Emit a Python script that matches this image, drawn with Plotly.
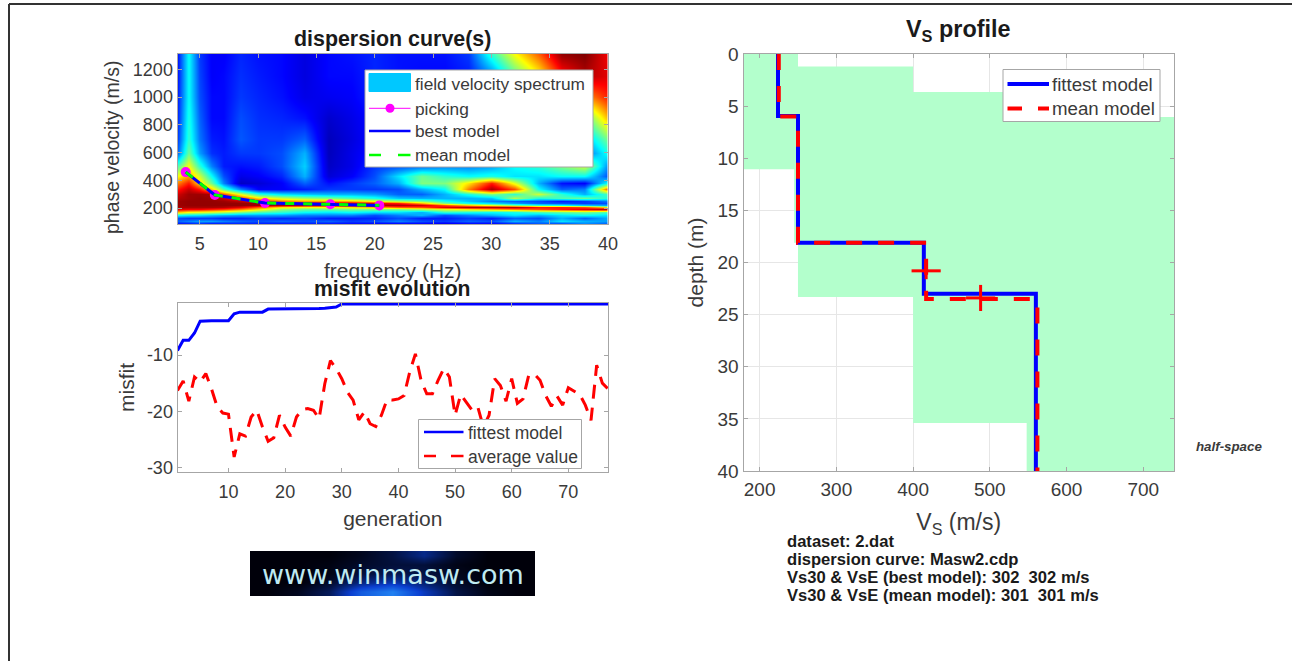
import plotly.graph_objects as go

W, H = 1292, 661

# ---------- dispersion panel data ----------
spectrum_freq = [3.1, 4, 5, 6, 7, 8.5, 10, 12, 14, 16, 18, 20, 22, 24, 26, 28, 30, 32, 34, 36, 38, 40]
spectrum_vel = [85, 110, 130, 150, 170, 190, 205, 220, 235, 250, 270, 300, 340, 380, 430, 500, 600, 700, 850, 1000, 1150, 1310]
spectrum = [
    [.12, .12, .14, .10, .12, .14, .14, .12, .14, .12, .12, .10, .08, .10, .08, .10, .10, .12, .20, .15, .25, .20],
    [.22, .25, .28, .28, .25, .22, .20, .22, .20, .22, .18, .20, .25, .20, .18, .22, .20, .30, .25, .35, .30, .28],
    [.20, .18, .18, .18, .16, .16, .18, .16, .18, .15, .15, .16, .20, .15, .15, .18, .15, .22, .20, .30, .22, .30],
    [.38, .36, .35, .32, .30, .28, .28, .28, .25, .25, .25, .20, .25, .30, .20, .25, .30, .35, .30, .35, .38, .35],
    [.68, .62, .60, .58, .55, .50, .45, .42, .38, .36, .38, .35, .35, .30, .42, .40, .38, .40, .45, .48, .50, .45],
    [.90, .88, .88, .85, .82, .75, .65, .52, .48, .48, .50, .50, .50, .55, .60, .65, .70, .75, .80, .85, .90, .95],
    [.96, .96, .96, .96, .95, .90, .78, .65, .62, .62, .65, .70, .78, .80, .90, .95, .95, .95, .85, .85, .80, .65],
    [.97, .98, .98, .98, .98, .98, .97, .96, .95, .95, .95, .95, .95, .92, .80, .68, .60, .50, .42, .38, .32, .28],
    [.97, .98, .98, .98, .98, .98, .97, .96, .95, .95, .93, .90, .85, .70, .50, .40, .35, .28, .22, .20, .18, .20],
    [.97, .98, .98, .98, .97, .94, .86, .76, .72, .72, .70, .62, .55, .50, .40, .32, .25, .22, .20, .15, .18, .25],
    [.95, .97, .98, .97, .93, .82, .66, .58, .53, .50, .45, .40, .32, .30, .30, .30, .32, .55, .40, .45, .48, .40],
    [.92, .97, .97, .96, .80, .60, .42, .35, .32, .30, .30, .28, .22, .22, .30, .40, .50, .42, .58, .42, .30, .45],
    [.85, .93, .85, .68, .45, .25, .12, .12, .15, .18, .18, .18, .20, .30, .38, .75, .96, .80, .38, .22, .25, .80],
    [.75, .85, .66, .48, .25, .06, .08, .12, .22, .14, .18, .22, .30, .50, .50, .65, .85, .60, .30, .14, .12, .40],
    [.62, .72, .58, .38, .20, .10, .12, .16, .30, .08, .12, .20, .35, .48, .42, .38, .40, .35, .35, .38, .38, .20],
    [.45, .62, .42, .25, .15, .14, .15, .20, .33, .06, .10, .18, .20, .22, .25, .25, .28, .38, .42, .50, .58, .25],
    [.22, .48, .28, .17, .15, .18, .18, .20, .30, .05, .10, .15, .16, .14, .14, .14, .14, .14, .16, .20, .22, .40],
    [.18, .42, .24, .15, .14, .21, .18, .18, .22, .05, .09, .14, .14, .14, .14, .14, .14, .14, .16, .20, .30, .50],
    [.16, .40, .22, .13, .13, .20, .17, .16, .14, .07, .10, .14, .14, .13, .13, .13, .13, .14, .20, .30, .45, .70],
    [.15, .38, .20, .13, .13, .18, .16, .14, .10, .11, .12, .16, .14, .13, .13, .14, .16, .22, .32, .50, .72, .85],
    [.14, .38, .19, .12, .13, .17, .15, .13, .09, .13, .13, .16, .14, .13, .13, .15, .25, .45, .62, .85, .95, .90],
    [.14, .38, .18, .12, .12, .16, .14, .13, .09, .13, .14, .16, .14, .14, .14, .18, .42, .62, .78, .98, 1.0, .88],
]
pick_freq = [3.8, 6.3, 10.6, 16.2, 20.4]
pick_vel = [459, 294, 236, 227, 219]
best_vel = [459, 294, 236, 227, 219]
mean_vel = [459, 295, 236, 227, 220]

# ---------- misfit panel data ----------
generation = list(range(1, 78))
fittest_misfit = [-9.2, -7.4, -7.4, -6.1, -4.0, -3.9, -3.9, -3.9, -3.9, -3.9, -2.7, -2.4, -2.4, -2.4, -2.4, -2.4,
                  -1.85, -1.85, -1.85, -1.85, -1.85, -1.85, -1.85, -1.85, -1.8, -1.75, -1.7, -1.6, -1.5] + [-0.95] * 48
average_misfit = [-16.3, -14.6, -18.2, -13.9, -14.8, -13.3, -16, -19.2, -20.3, -20.5, -28.1, -24, -24.4, -21, -19.8,
                  -22.8, -25.3, -24.7, -20.7, -22.8, -24.4, -21, -19.7, -19.5, -19.8, -21.3, -15.1, -11, -12.4, -14.2,
                  -16.6, -18, -21.5, -20.1, -22.2, -22.7, -20.7, -17.9, -18, -17.8, -17.2, -13, -9.8, -14.5, -16.9,
                  -16.9, -14.5, -12.4, -13.9, -20.7, -17, -18.3, -19.8, -19.2, -22.8, -20.7, -14.2, -15.4, -18.2,
                  -14.2, -18.6, -17.8, -13.6, -13.4, -14.5, -17.2, -19.1, -17.3, -18.9, -15.8, -16.4, -17, -18.9,
                  -21.6, -11.8, -15, -16]

# ---------- Vs profile data ----------
fit_vs = [224, 224, 250, 250, 414, 414, 560, 560]
fit_depth = [0, 5.95, 5.95, 18.1, 18.1, 23.0, 23.0, 40]
mean_vs = [225, 225, 250, 250, 417, 417, 562, 562]
mean_depth = [0, 6.0, 6.0, 18.1, 18.1, 23.5, 23.5, 40]
cross_vs = [417, 488]
cross_depth = [20.8, 23.4]
cross_vs_err = [19, 19]
cross_depth_err = [0.8, 1.25]
band_top = [0, 1.2, 3.65, 6.05, 11.05, 18.1, 23.3, 35.4]
band_bottom = [1.2, 3.65, 6.05, 11.05, 18.1, 23.3, 35.4, 40]
band_low = [179, 179, 179, 179, 245, 250, 400, 548]
band_high = [250, 400, 650, 740, 740, 740, 740, 740]

# ---------- logo glow ----------
logo_glow = [
    [0, .05, .2, .65, .85, .45, .15, .03, 0],
    [0, 0, .08, .3, .42, .25, .08, 0, 0],
    [0, 0, .03, .12, .18, .14, .05, 0, 0],
    [0, 0, .02, .08, .12, .12, .03, 0, 0],
    [0, 0, 0, .05, .14, .32, .08, 0, 0],
]

INK = "#3a3a3a"
FONT = "Liberation Sans"
AX = "#a6a6a6"


def px(x):
    return x / W


def py(y):
    return 1 - y / H


def dom_x(a, b):
    return [px(a), px(b)]


def dom_y(top, bottom):
    return [py(bottom), py(top)]


JET = [[0, "rgb(0,0,143)"], [.125, "rgb(0,0,255)"], [.375, "rgb(0,255,255)"],
       [.625, "rgb(255,255,0)"], [.875, "rgb(255,0,0)"], [1, "rgb(128,0,0)"]]

fig = go.Figure()

# dispersion panel
fig.add_trace(go.Heatmap(x=spectrum_freq, y=spectrum_vel, z=spectrum, colorscale=JET, zmin=0, zmax=1,
                         zsmooth="best", showscale=False, xaxis="x", yaxis="y", name="field velocity spectrum",
                         hoverinfo="skip"))
fig.add_trace(go.Scatter(x=pick_freq, y=pick_vel, mode="lines+markers", name="picking", xaxis="x", yaxis="y",
                         line=dict(color="#ff00ff", width=1), marker=dict(color="#ff00ff", size=10)))
fig.add_trace(go.Scatter(x=pick_freq, y=best_vel, mode="lines", name="best model", xaxis="x", yaxis="y",
                         line=dict(color="#0000ff", width=3)))
fig.add_trace(go.Scatter(x=pick_freq, y=mean_vel, mode="lines", name="mean model", xaxis="x", yaxis="y",
                         line=dict(color="#00ff00", width=3, dash="9px,9px")))

# misfit panel
fig.add_trace(go.Scatter(x=generation, y=fittest_misfit, mode="lines", name="fittest model", xaxis="x2", yaxis="y2",
                         line=dict(color="#0000ff", width=3), cliponaxis=False))
fig.add_trace(go.Scatter(x=generation, y=average_misfit, mode="lines", name="average value", xaxis="x2", yaxis="y2",
                         line=dict(color="#ff0000", width=3, dash="14px,9px")))

# Vs profile panel
band_x, band_y = [], []
for lo, t, b in zip(band_low, band_top, band_bottom):
    band_x += [lo, lo]
    band_y += [t, b]
for hi, t, b in zip(band_high[::-1], band_top[::-1], band_bottom[::-1]):
    band_x += [hi, hi]
    band_y += [b, t]
fig.add_trace(go.Scatter(x=band_x, y=band_y, mode="lines", fill="toself", fillcolor="rgb(179,255,204)",
                         line=dict(width=0), xaxis="x3", yaxis="y3", name="explored range", hoverinfo="skip"))
fig.add_trace(go.Scatter(x=fit_vs, y=fit_depth, mode="lines", name="fittest model", xaxis="x3", yaxis="y3",
                         line=dict(color="#0000ff", width=4)))
fig.add_trace(go.Scatter(x=mean_vs, y=mean_depth, mode="lines", name="mean model", xaxis="x3", yaxis="y3",
                         line=dict(color="#ff0000", width=4, dash="16px,16px")))
fig.add_trace(go.Scatter(x=cross_vs, y=cross_depth, mode="markers", xaxis="x3", yaxis="y3", name="uncertainty",
                         marker=dict(size=1, color="#ff0000"),
                         error_x=dict(type="data", array=cross_vs_err, color="#ff0000", thickness=3, width=0),
                         error_y=dict(type="data", array=cross_depth_err, color="#ff0000", thickness=3, width=0)))

# logo background
fig.add_trace(go.Heatmap(z=logo_glow, xaxis="x4", yaxis="y4", zsmooth="best", showscale=False, zmin=0, zmax=1,
                         colorscale=[[0, "#00000a"], [.5, "#0a3fd0"], [1, "#2a9cff"]], hoverinfo="skip"))


def axis_common(tick):
    return dict(showline=True, linecolor=AX, linewidth=1, mirror="ticks", ticks="inside", ticklen=4, tickcolor=AX,
                tickfont=dict(family=FONT, size=tick, color=INK), zeroline=False, showgrid=False,
                layer="above traces", automargin=False)


def title_font(size):
    return dict(family=FONT, size=size, color=INK)


layout = dict(
    width=W, height=H, margin=dict(l=0, r=0, t=0, b=0, autoexpand=False), paper_bgcolor="white", plot_bgcolor="white",
    showlegend=False, font=dict(family=FONT, color=INK),
    xaxis=dict(domain=dom_x(177.5, 608), range=[3.1, 40], tickvals=[5, 10, 15, 20, 25, 30, 35, 40], anchor="y",
               ticklabelstandoff=3,
               title=dict(text="frequency (Hz)", font=title_font(21), standoff=10), **axis_common(18)),
    yaxis=dict(domain=dom_y(54, 224), range=[85, 1310], tickvals=[200, 400, 600, 800, 1000, 1200], anchor="x",
               **axis_common(18)),
    xaxis2=dict(domain=dom_x(177.5, 608), range=[1, 77], tickvals=[10, 20, 30, 40, 50, 60, 70], anchor="y2",
                ticklabelstandoff=3,
                title=dict(text="generation", font=title_font(21), standoff=10), **axis_common(18)),
    yaxis2=dict(domain=dom_y(303, 472), range=[-30.77, -0.77], tickvals=[-10, -20, -30],
                ticktext=["-10", "-20", "-30"], anchor="x2",
                title=dict(text="misfit", font=title_font(21), standoff=6), **axis_common(18)),
    xaxis3=dict(domain=dom_x(743.5, 1174), range=[179, 740], tickvals=[200, 300, 400, 500, 600, 700], anchor="y3",
                ticklabelstandoff=1,
                title=dict(text="V<sub>S</sub> (m/s)", font=title_font(23), standoff=15),
                **{**axis_common(19), "showgrid": True, "gridcolor": "#e6e6e6"}),
    yaxis3=dict(domain=dom_y(54, 471), range=[40, 0], tickvals=[0, 5, 10, 15, 20, 25, 30, 35, 40], anchor="x3",
                title=dict(text="depth (m)", font=title_font(21), standoff=8),
                **{**axis_common(19), "showgrid": True, "gridcolor": "#e6e6e6"}),
    xaxis4=dict(domain=dom_x(250, 535), visible=False, anchor="y4"),
    yaxis4=dict(domain=dom_y(551, 596), visible=False, anchor="x4"),
)

shapes = []
ann = []


def text(x, y, s, size=17.3, color=INK, anchor="left", bold=False, family=FONT, angle=0):
    ann.append(dict(xref="paper", yref="paper", x=px(x), y=py(y), text=f"<b>{s}</b>" if bold else s, showarrow=False,
                    xanchor=anchor, yanchor="middle", font=dict(family=family, size=size, color=color), textangle=angle,
                    borderpad=0, borderwidth=0))


def rect(x0, y0, x1, y1, fill="white", line=AX, w=1):
    shapes.append(dict(type="rect", xref="paper", yref="paper", x0=px(x0), x1=px(x1), y0=py(y0), y1=py(y1),
                       fillcolor=fill, line=dict(color=line, width=w)))


def seg(x0, y0, x1, y1, color, w, dash="solid"):
    shapes.append(dict(type="line", xref="paper", yref="paper", x0=px(x0), x1=px(x1), y0=py(y0), y1=py(y1),
                       line=dict(color=color, width=w, dash=dash)))


# page frame
seg(9, 4, W, 4, "#333333", 2)
seg(9, 4, 9, H, "#333333", 2)

# titles
text(392, 39, "dispersion curve(s)", size=21.4, anchor="center", bold=True, color="#1a1a1a")
text(392, 288, "misfit evolution", size=21.2, anchor="center", bold=True, color="#1a1a1a")
text(958, 30, "V<sub>S</sub> profile", size=23.4, anchor="center", bold=True, color="#1a1a1a")
text(112, 148, "phase velocity (m/s)", size=19.5, anchor="center", angle=-90)

# dispersion legend
rect(365, 70, 593, 167)
rect(369, 73.5, 410.5, 91.5, fill="#00c8ff", line="#00c8ff")
seg(369, 108.3, 410.5, 108.3, "#ff00ff", 1)
shapes.append(dict(type="circle", xref="paper", yref="paper", x0=px(385.5), x1=px(394.5), y0=py(103.8), y1=py(112.8),
                   fillcolor="#ff00ff", line=dict(color="#ff00ff", width=0)))
seg(369, 131, 410.5, 131, "#0000ff", 2.5)
seg(369, 155, 381, 155, "#00ff00", 2.5)
seg(398, 155, 410.5, 155, "#00ff00", 2.5)
for yy, s in zip([84, 108.5, 131, 155], ["field velocity spectrum", "picking", "best model", "mean model"]):
    text(414.5, yy, s)

# misfit legend
rect(418.5, 419.5, 581.5, 468.5)
seg(424, 432, 463.5, 432, "#0000ff", 2.5)
seg(424, 456, 436, 456, "#ff0000", 2.5)
seg(451, 456, 463.5, 456, "#ff0000", 2.5)
text(467.5, 433, "fittest model", size=17.5)
text(467.5, 456.5, "average value", size=17.5)

# Vs legend
rect(1003, 69.5, 1160, 121.5)
seg(1007.5, 84, 1049, 84, "#0000ff", 4)
seg(1007.5, 108.5, 1022, 108.5, "#ff0000", 4)
seg(1038, 108.5, 1049, 108.5, "#ff0000", 4)
text(1051.5, 84, "fittest model", size=18.7)
text(1051.5, 108.5, "mean model", size=18.7)

# notes
text(1196, 446, "<b><i>half-space</i></b>", size=13.3)
for yy, s in zip([541.5, 559.5, 577, 595.5],
                 ["dataset: 2.dat", "dispersion curve: Masw2.cdp",
                  "Vs30 &amp; VsE (best model): 302\u00a0\u00a0302 m/s",
                  "Vs30 &amp; VsE (mean model): 301\u00a0\u00a0301 m/s"]):
    text(787, yy, s, size=16.6, bold=True, color="#1a1a1a")

# logo text
text(392.5, 574, "www.winmasw.com", size=27, anchor="center", color="#bfeaf2", family="DejaVu Sans")

layout["shapes"] = shapes
layout["annotations"] = ann
fig.update_layout(**layout)
fig.write_html("out.html", config={"displayModeBar": False}, post_script="document.body.style.margin='0';")
